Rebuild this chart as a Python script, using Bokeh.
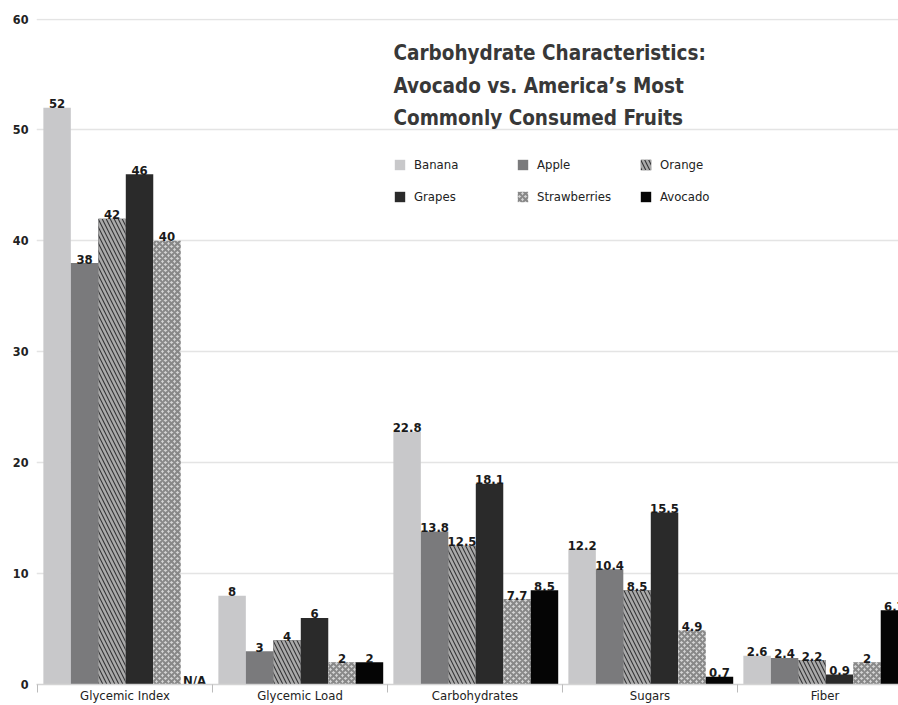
from bokeh.plotting import figure
from bokeh.models import ColumnDataSource, Range1d, FixedTicker, Legend, LegendItem
from bokeh.core.properties import value
from bokeh.embed import file_html
from bokeh.resources import INLINE

# ---------------- data ----------------
categories = ["Glycemic Index", "Glycemic Load", "Carbohydrates", "Sugars", "Fiber"]
fruits = ["Banana", "Apple", "Orange", "Grapes", "Strawberries", "Avocado"]
banana = [52, 8, 22.8, 12.2, 2.6]
apple = [38, 3, 13.8, 10.4, 2.4]
orange = [42, 4, 12.5, 8.5, 2.2]
grapes = [46, 6, 18.1, 15.5, 0.9]
strawberries = [40, 2, 7.7, 4.9, 2]
avocado = [None, 2, 8.5, 0.7, 6.7]
y_ticks = [0, 10, 20, 30, 40, 50, 60]
title_lines = ["Carbohydrate Characteristics:",
               "Avocado vs. America\u2019s Most",
               "Commonly Consumed Fruits"]

series = [banana, apple, orange, grapes, strawberries, avocado]

# ---------------- styles ----------------
FONT = "'Liberation Sans Narrow', 'DejaVu Sans Condensed', sans-serif"
styles = [
    dict(fill_color="#c8c8ca"),
    dict(fill_color="#7a7a7c"),
    dict(fill_color="#343436", hatch_pattern="\\", hatch_color="#aaaaaa",
         hatch_weight=2.5, hatch_scale=8),
    dict(fill_color="#2a2a2a"),
    dict(fill_color="#d4d4d4", hatch_pattern="x", hatch_color="#888888",
         hatch_weight=2, hatch_scale=6),
    dict(fill_color="#050505"),
]

first_off = -0.5 + 0.112   # centre of first bar relative to category centre
step = 0.157
bar_w = 0.157

p = figure(width=898, height=705,
           x_range=Range1d(-0.5057, 4.42), y_range=Range1d(0, 60.05),
           output_backend="svg", toolbar_location=None,
           min_border_left=36, min_border_right=0, min_border_top=18,
           min_border_bottom=0)
p.outline_line_color = None
p.background_fill_color = "white"

def fmt(v):
    return "N/A" if v is None else f"{v:g}"

legend_items = []
for k, (name, vals, st) in enumerate(zip(fruits, series, styles)):
    xs = [i + first_off + k * step for i in range(len(categories))]
    tops = [float("nan") if v is None else v for v in vals]
    src = ColumnDataSource(dict(
        x=xs, top=tops,
        label=[fmt(v) for v in vals],
        ly=[0 if v is None else v for v in vals],
    ))
    r = p.vbar(x="x", top="top", width=bar_w, source=src, line_color=None, **st)
    p.text(x="x", y="ly", text="label", source=src, text_align="center",
           text_baseline="alphabetic", y_offset=-4,
           text_font=value(FONT), text_font_size="13px",
           text_font_style="bold", text_color="#1a1a1a")
    legend_items.append(LegendItem(label=name, renderers=[r]))

# title
title_y = [56.94, 53.97, 51.09]
for line, ty in zip(title_lines, title_y):
    p.text(x=[1.534], y=[ty], text=[line],
           text_align="left", text_baseline="alphabetic",
           text_font=value(FONT), text_font_size="20.5px",
           text_font_style="bold", text_color="#383838")

legend = Legend(items=legend_items, location=(357, 478),
                orientation="horizontal", ncols=3,
                glyph_width=13, glyph_height=13, label_standoff=8,
                spacing=12, label_width=90, label_height=20,
                padding=0, margin=0,
                border_line_color=None, background_fill_alpha=0,
                label_text_font=FONT, label_text_font_size="13px",
                label_text_color="#222222")
p.add_layout(legend)

# axes
p.yaxis.ticker = FixedTicker(ticks=y_ticks)
p.yaxis.axis_line_color = None
p.yaxis.major_tick_line_color = None
p.yaxis.major_tick_out = 0
p.yaxis.minor_tick_line_color = None
p.yaxis.major_label_standoff = 8
p.yaxis.major_label_text_font = FONT
p.yaxis.major_label_text_font_size = "12.5px"
p.yaxis.major_label_text_font_style = "bold"
p.yaxis.major_label_text_color = "#222222"

p.xaxis.ticker = FixedTicker(ticks=list(range(len(categories))),
                             minor_ticks=[i - 0.5 for i in range(len(categories) + 1)])
p.xaxis.major_label_overrides = {i: c for i, c in enumerate(categories)}
p.xaxis.major_tick_line_color = None
p.xaxis.major_tick_out = 0
p.xaxis.major_tick_in = 0
p.xaxis.minor_tick_in = 0
p.xaxis.minor_tick_out = 8
p.xaxis.minor_tick_line_color = "#bbbbbb"
p.xaxis.axis_line_color = "#d4d4d4"
p.xaxis.axis_line_width = 1.5
p.xaxis.axis_label_standoff = 0
p.xaxis.major_label_standoff = -5
p.xaxis.major_label_text_font = FONT
p.xaxis.major_label_text_font_size = "13px"
p.xaxis.major_label_text_color = "#222222"

p.xgrid.grid_line_color = None
p.ygrid.ticker = FixedTicker(ticks=y_ticks)
p.ygrid.grid_line_color = "#e4e4e4"
p.ygrid.grid_line_width = 1.5

open("out.html", "w").write(file_html(p, INLINE))
